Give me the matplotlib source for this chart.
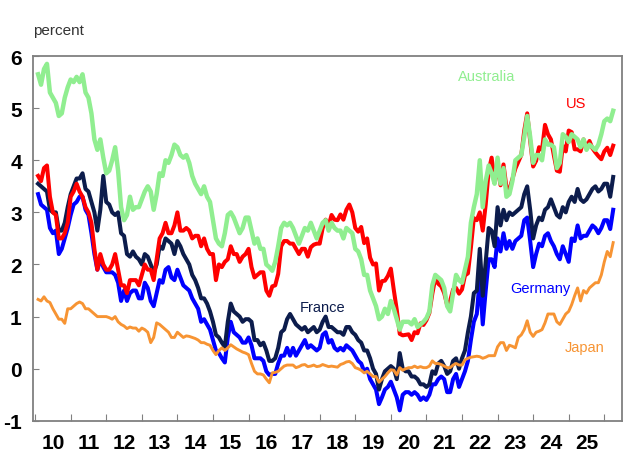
import numpy as np
import matplotlib.pyplot as plt

plt.rcParams['font.family'] = ['Liberation Sans', 'DejaVu Sans']

# 10 year bond yields, monthly, Jan 2010 - Mar 2026 (percent)
australia = [
    5.65, 5.45, 5.75, 5.85, 5.3, 5.2, 5.1, 4.85, 4.9, 5.2, 5.4, 5.55,
    5.5, 5.6, 5.5, 5.65, 5.3, 5.2, 4.9, 4.4, 4.2, 4.4, 4.05, 3.75,
    3.8, 4.0, 4.25, 3.8, 3.1, 2.85, 2.95, 3.3, 3.05, 3.1, 3.1, 3.25,
    3.4, 3.5, 3.4, 3.05, 3.35, 3.75, 3.7, 4.0, 3.95, 4.1, 4.3, 4.25,
    4.1, 4.05, 4.1, 3.95, 3.7, 3.55, 3.45, 3.35, 3.5, 3.3, 3.2, 2.85,
    2.5, 2.4, 2.35, 2.6, 2.95, 3.0, 2.9, 2.75, 2.6, 2.7, 2.9, 2.9,
    2.65, 2.4, 2.5, 2.3, 2.3, 2.0, 1.95, 1.88, 2.05, 2.35, 2.7, 2.8,
    2.75, 2.8, 2.7, 2.55, 2.4, 2.55, 2.7, 2.65, 2.8, 2.65, 2.5, 2.65,
    2.8, 2.85, 2.65, 2.8, 2.7, 2.65, 2.65, 2.5, 2.7, 2.65, 2.6, 2.3,
    2.25, 2.1, 1.8, 1.8, 1.5, 1.35, 1.2, 0.95, 1.0, 1.15, 1.05, 1.3,
    1.15, 0.95, 0.75, 0.9, 0.9, 0.9, 0.85, 0.95, 0.8, 0.85, 0.9, 0.97,
    1.1, 1.6, 1.8, 1.75, 1.7, 1.55, 1.2, 1.1, 1.45, 1.8, 1.7, 1.65,
    1.9, 2.15, 2.8, 3.1, 3.35, 4.0, 3.1, 3.6, 3.9, 3.75, 3.55, 4.05,
    3.55, 3.85, 3.3, 3.35, 3.6, 4.0, 4.05, 4.1, 4.45, 4.85, 4.45, 3.95,
    4.1, 4.1, 4.0, 4.4, 4.3, 4.3, 4.25, 3.85, 3.95, 4.5, 4.45, 4.35,
    4.5, 4.45, 4.4, 4.25, 4.4, 4.2, 4.3, 4.25, 4.2, 4.3, 4.5, 4.75,
    4.8, 4.75, 4.95,
]
us = [
    3.7, 3.6, 3.85, 3.9, 3.3, 3.0, 2.95, 2.5, 2.5, 2.6, 2.8, 3.3,
    3.4, 3.55, 3.4, 3.3, 3.1, 3.0, 2.8, 2.3, 1.9, 2.2, 2.0, 1.9,
    1.9, 2.0, 2.2, 1.9, 1.6, 1.6, 1.45, 1.7, 1.7, 1.7, 1.6, 1.8,
    2.0, 1.9, 1.9, 1.7, 2.1, 2.5, 2.6, 2.8, 2.6, 2.6, 2.75, 3.0,
    2.65, 2.65, 2.7, 2.65, 2.5, 2.55, 2.55, 2.35, 2.5, 2.3, 2.2, 2.2,
    1.7, 2.0, 1.95, 2.05, 2.1, 2.35, 2.2, 2.2, 2.05, 2.15, 2.2, 2.3,
    1.95, 1.75, 1.8, 1.85, 1.85, 1.5, 1.4, 1.58, 1.6, 1.82, 2.35, 2.45,
    2.45, 2.4, 2.4, 2.3, 2.2, 2.3, 2.3, 2.15, 2.33, 2.38, 2.4, 2.4,
    2.7, 2.86, 2.74, 2.95, 2.86, 2.85, 2.96, 2.86, 3.05, 3.15, 3.0, 2.7,
    2.63, 2.72, 2.41, 2.5, 2.13, 2.0, 2.02, 1.5, 1.68, 1.69, 1.78, 1.92,
    1.51, 1.13, 0.67, 0.64, 0.65, 0.66, 0.55, 0.7, 0.68, 0.87, 0.84, 0.93,
    1.07, 1.44, 1.74, 1.63, 1.58, 1.45, 1.22, 1.3, 1.52, 1.55, 1.44, 1.52,
    1.79, 1.83, 2.32, 2.89, 2.85, 3.0, 2.65, 3.15, 3.8, 4.05, 3.6, 3.87,
    3.52, 3.92, 3.48, 3.44, 3.64, 3.84, 3.97, 4.1, 4.57, 4.9, 4.37, 3.88,
    3.99, 4.25, 4.2, 4.68, 4.5, 4.4, 4.09, 3.8, 3.78, 4.28, 4.17, 4.57,
    4.54, 4.21, 4.21, 4.17, 4.4, 4.23, 4.37, 4.23, 4.15, 4.08, 4.02, 4.17,
    4.24, 4.1, 4.28,
]
france = [
    3.55, 3.5, 3.45, 3.4, 3.05, 3.0, 3.0, 2.65, 2.65, 2.8, 3.1, 3.35,
    3.5, 3.65, 3.65, 3.75, 3.45, 3.4, 3.2, 3.0, 2.65, 3.05, 3.7, 3.2,
    3.15, 3.0, 2.95, 3.0, 2.6, 2.55, 2.2, 2.15, 2.25, 2.15, 2.1, 2.0,
    2.2, 2.15, 2.0, 1.85, 2.0, 2.35, 2.3, 2.5, 2.45, 2.4, 2.2, 2.45,
    2.35, 2.2, 2.1, 2.0, 1.8, 1.7, 1.55, 1.35, 1.35, 1.25, 1.1, 0.9,
    0.65, 0.6, 0.5, 0.42, 0.9, 1.25, 1.1, 1.05, 1.0, 0.9, 0.95, 0.95,
    0.9, 0.55, 0.55, 0.45, 0.5, 0.35, 0.15, 0.15, 0.2, 0.4, 0.7, 0.75,
    0.95, 1.05, 0.95, 0.85, 0.8, 0.75, 0.8, 0.7, 0.75, 0.8, 0.7, 0.75,
    0.9, 1.0, 0.8, 0.8, 0.75, 0.7, 0.7, 0.65, 0.8, 0.8, 0.7, 0.65,
    0.55, 0.5, 0.35, 0.35, 0.2, 0.0, -0.1, -0.4, -0.2, -0.05, 0.0, 0.05,
    0.0, -0.2, 0.3, 0.0, -0.05, -0.05, -0.15, -0.15, -0.2, -0.3, -0.3, -0.35,
    -0.3, -0.05, -0.1, 0.1, 0.15, 0.05, -0.1, -0.05, 0.15, 0.2, 0.0, 0.2,
    0.35, 0.7, 1.0, 1.45, 1.5, 2.3, 1.4, 2.05, 2.7, 2.65, 2.35, 3.1,
    2.75, 3.05, 2.85, 3.0, 2.95, 3.0, 3.05, 3.1, 3.35, 3.5, 3.05, 2.5,
    2.75, 2.9, 2.85, 3.05, 3.1, 3.25, 3.1, 2.95, 2.9, 3.1, 3.0, 3.2,
    3.3, 3.2, 3.45, 3.25, 3.2, 3.25, 3.35, 3.45, 3.5, 3.4, 3.45, 3.55,
    3.55, 3.3, 3.68,
]
germany = [
    3.35, 3.15, 3.1, 3.05, 2.7, 2.6, 2.65, 2.2, 2.3, 2.5, 2.7, 2.95,
    3.15, 3.2, 3.3, 3.3, 3.05, 2.95, 2.6, 2.2, 1.9, 2.1, 1.95, 1.85,
    1.85, 1.85, 1.8, 1.65, 1.3, 1.5, 1.3, 1.45, 1.5, 1.5, 1.35, 1.35,
    1.65, 1.55, 1.3, 1.2, 1.45, 1.7, 1.65, 1.9, 1.95, 1.75, 1.7, 1.9,
    1.75, 1.6, 1.55, 1.5, 1.35, 1.25, 1.15, 0.9, 0.95, 0.85, 0.75, 0.55,
    0.35, 0.3, 0.2, 0.12, 0.6, 0.9, 0.7, 0.65, 0.6, 0.5, 0.5, 0.6,
    0.45, 0.2, 0.2, 0.2, 0.15, -0.05, -0.12, -0.1, -0.1, 0.1, 0.25, 0.25,
    0.4, 0.25, 0.4, 0.25, 0.35, 0.45, 0.55, 0.4, 0.45, 0.4, 0.35, 0.4,
    0.65, 0.7, 0.5, 0.55, 0.4, 0.35, 0.4, 0.35, 0.45, 0.4, 0.35, 0.25,
    0.15, 0.1, -0.05, 0.0, -0.2, -0.3, -0.4, -0.68, -0.55, -0.4, -0.35, -0.25,
    -0.4, -0.55, -0.8, -0.5, -0.45, -0.45, -0.5, -0.45, -0.5, -0.6, -0.55, -0.6,
    -0.5, -0.3, -0.3, -0.2, -0.15, -0.2, -0.45, -0.45, -0.2, -0.1, -0.35, -0.2,
    -0.05, 0.15, 0.55, 0.9, 1.05, 1.75, 0.85, 1.5, 2.1, 2.1, 1.95, 2.5,
    2.25, 2.6, 2.3, 2.45, 2.3, 2.45, 2.5, 2.55, 2.85, 2.9, 2.45, 1.95,
    2.2, 2.4, 2.35, 2.55, 2.6, 2.45, 2.35, 2.2, 2.1, 2.35, 2.2, 2.05,
    2.5, 2.45, 2.75, 2.5, 2.55, 2.55, 2.65, 2.75, 2.7, 2.6, 2.7, 2.85,
    2.85, 2.68, 3.05,
]
japan = [
    1.33, 1.3, 1.38, 1.3, 1.27, 1.15, 1.05, 0.95, 0.95, 0.87, 1.15, 1.15,
    1.2, 1.25, 1.28, 1.25, 1.15, 1.15, 1.1, 1.05, 1.0, 1.0, 1.0, 1.0,
    0.98, 0.95, 1.0, 0.9, 0.85, 0.82, 0.77, 0.8, 0.78, 0.78, 0.72, 0.78,
    0.75, 0.7, 0.5, 0.6, 0.88, 0.85, 0.8, 0.75, 0.7, 0.6, 0.6, 0.7,
    0.65, 0.6, 0.63, 0.62, 0.6, 0.58, 0.55, 0.5, 0.5, 0.47, 0.45, 0.35,
    0.27, 0.35, 0.4, 0.35, 0.4, 0.46, 0.42, 0.38, 0.35, 0.32, 0.3, 0.27,
    0.1, -0.05, -0.1, -0.1, -0.12, -0.2, -0.27, -0.08, -0.07, -0.05, 0.0, 0.05,
    0.07, 0.07, 0.07, 0.02, 0.04, 0.07, 0.08, 0.04, 0.05, 0.07, 0.04, 0.05,
    0.08, 0.06, 0.04, 0.05, 0.04, 0.03, 0.08, 0.1, 0.13, 0.14, 0.1, 0.02,
    0.0, -0.03, -0.08, -0.05, -0.1, -0.15, -0.15, -0.26, -0.2, -0.15, -0.08, -0.02,
    -0.03, -0.12, 0.02, -0.03, 0.0, 0.02, 0.02, 0.05, 0.02, 0.04, 0.02, 0.02,
    0.05, 0.15, 0.1, 0.1, 0.08, 0.05, 0.02, 0.02, 0.07, 0.1, 0.07, 0.07,
    0.17, 0.2, 0.22, 0.23, 0.24, 0.23, 0.2, 0.22, 0.25, 0.25, 0.25, 0.42,
    0.5, 0.5, 0.35, 0.45, 0.43, 0.4, 0.6, 0.65, 0.75, 0.92, 0.7, 0.62,
    0.7, 0.72, 0.75, 0.88, 1.05, 1.05, 1.05, 0.9, 0.85, 0.95, 1.05, 1.1,
    1.23, 1.4, 1.55, 1.3, 1.5, 1.45, 1.55, 1.6, 1.65, 1.65, 1.8, 2.05,
    2.25, 2.15, 2.42,
]

years = list(range(2010, 2026))
year_labels = [str(y)[2:] for y in years]

x = 2010 + (np.arange(len(us)) + 1) / 12

fig = plt.figure(figsize=(6.28, 4.6), dpi=100)
ax = fig.add_axes([0.0525, 0.083, 0.9375, 0.793])

ax.plot(x, germany, color='#0000FF', lw=2.9, zorder=2)
ax.plot(x, france, color='#0C1C4C', lw=2.9, zorder=3)
ax.plot(x, us, color='#FF0000', lw=2.9, zorder=4)
ax.plot(x, australia, color='#90EE90', lw=3.2, zorder=5)
ax.plot(x, japan, color='#F79433', lw=2.1, zorder=6)

# series labels
ax.text(2022.70, 5.62, 'Australia', color='#90EE90', fontsize=10.5, ha='center', va='center')
ax.text(2025.22, 5.10, 'US', color='#FF0000', fontsize=10.5, ha='center', va='center')
ax.text(2018.09, 1.19, 'France', color='#0C1C4C', fontsize=10.5, ha='center', va='center')
ax.text(2024.19, 1.54, 'Germany', color='#0000FF', fontsize=10.5, ha='center', va='center')
ax.text(2025.45, 0.42, 'Japan', color='#F79433', fontsize=10.5, ha='center', va='center')

ax.set_xlim(2009.94, 2026.49)
ax.set_ylim(-1, 6)

ax.set_yticks(range(-1, 7))
ax.set_yticklabels([str(v) for v in range(-1, 7)], fontsize=15, fontweight='bold')
ax.tick_params(axis='y', direction='in', length=4, color='#808080', pad=8)

ax.set_xticks(list(range(2010, 2027)))
ax.set_xticklabels([])
ax.set_xticks([y + 0.5 for y in years], minor=True)
ax.set_xticklabels(year_labels, minor=True, fontsize=15, fontweight='bold')
ax.tick_params(axis='x', which='major', direction='in', length=5, color='#808080')
ax.tick_params(axis='x', which='minor', length=0, pad=9)

for s in ax.spines.values():
    s.set_color('#808080')
    s.set_linewidth(1.3)

fig.text(0.053, 0.933, 'percent', fontsize=11, color='#333333', va='center')

fig.savefig('out.png', dpi=100)
